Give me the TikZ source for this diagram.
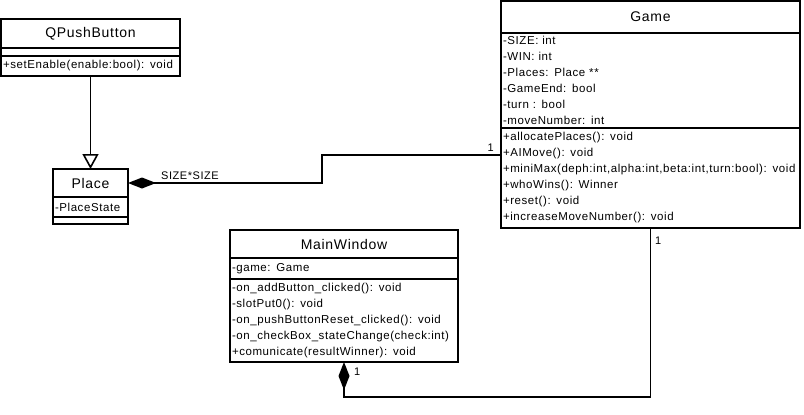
\documentclass[tikz,border=0pt]{standalone}
\usepackage{fontspec}
\setmainfont[LetterSpace=5]{Liberation Sans}
\usetikzlibrary{arrows.meta,positioning}
\tikzset{
  classname/.style={
    draw,
    line width=1.6pt,
    outer sep=0pt,
    inner sep=0pt,
    font=\fontsize{14}{16}\selectfont
  },
  classpart/.style={
    draw,
    line width=1.6pt,
    outer sep=0pt,
    inner xsep=2pt,
    inner ysep=0pt,
    align=left,
    font=\fontsize{11.5}{16}\selectfont
  },
  multiplicity/.style={
    inner sep=0pt,
    font=\fontsize{11}{13}\selectfont
  },
  connector/.style={
    line width=1.6pt
  },
  composition/.style={
    connector,
    -{Diamond[length=28pt,width=11pt]}
  },
  inherits/.style={
    connector,
    -{Triangle[open,fill=white,length=15pt,width=16pt]}
  }
}

\begin{document}
\begin{tikzpicture}[x=1pt,y=-1pt]
  \useasboundingbox (0,0) rectangle (804,415);

  % QPushButton
  \node[classname,anchor=north west,minimum width=179pt,minimum height=29pt] (qbname) at (1,19) {QPushButton};
  \node[classpart,below=0pt of qbname,text width=175pt,minimum height=8pt] (qbattr) {};
  \node[classpart,below=0pt of qbattr,text width=175pt,minimum height=20pt] (qbops) {+setEnable(enable:bool): void};

  % Place
  \node[classname,anchor=north west,minimum width=75pt,minimum height=28pt] (placename) at (53,169) {Place};
  \node[classpart,below=0pt of placename,text width=71pt,minimum height=20pt] (placeattr) {-PlaceState};
  \node[classpart,below=0pt of placeattr,text width=71pt,minimum height=7pt] (placeops) {};

  % Game
  \node[classname,anchor=north west,minimum width=299pt,minimum height=32pt] (gamename) at (501,1) {Game};
  \node[classpart,below=0pt of gamename,text width=295pt,minimum height=95pt] (gameattr) {-SIZE: int\\-WIN: int\\-Places: Place **\\-GameEnd: bool\\-turn : bool\\-moveNumber: int};
  \node[classpart,below=0pt of gameattr,text width=295pt,minimum height=100pt] (gameops) {+allocatePlaces(): void\\+AIMove(): void\\+miniMax(deph:int,alpha:int,beta:int,turn:bool): void\\+whoWins(): Winner\\+reset(): void\\+increaseMoveNumber(): void};

  % MainWindow
  \node[classname,anchor=north west,minimum width=228pt,minimum height=28pt] (mainname) at (230,230) {MainWindow};
  \node[classpart,below=0pt of mainname,text width=224pt,minimum height=21pt] (mainattr) {-game: Game};
  \node[classpart,below=0pt of mainattr,text width=224pt,minimum height=83pt] (mainops) {-on\_addButton\_clicked(): void\\-slotPut0(): void\\-on\_pushButtonReset\_clicked(): void\\-on\_checkBox\_stateChange(check:int)\\+comunicate(resultWinner): void};

  % connectors
  \draw[inherits] (qbops.south) -- (placename.north);

  \coordinate (bendplace) at (322,155);
  \draw[composition] (gameops.west |- bendplace) -- (bendplace) |- (placename.east);

  \coordinate (bendmain) at (650.5,397);
  \draw[composition] (gameops.south) -- (bendmain) -| (mainops.south);

  % multiplicities
  \node[multiplicity,anchor=base west] (sizelbl) at (161,179) {SIZE*SIZE};
  \node[multiplicity,anchor=base east] (placeone) at (494,151) {1};
  \node[multiplicity,anchor=base west] (gameone) at (655,244) {1};
  \node[multiplicity,anchor=base west] (mainone) at (354,375) {1};
\end{tikzpicture}
\end{document}
